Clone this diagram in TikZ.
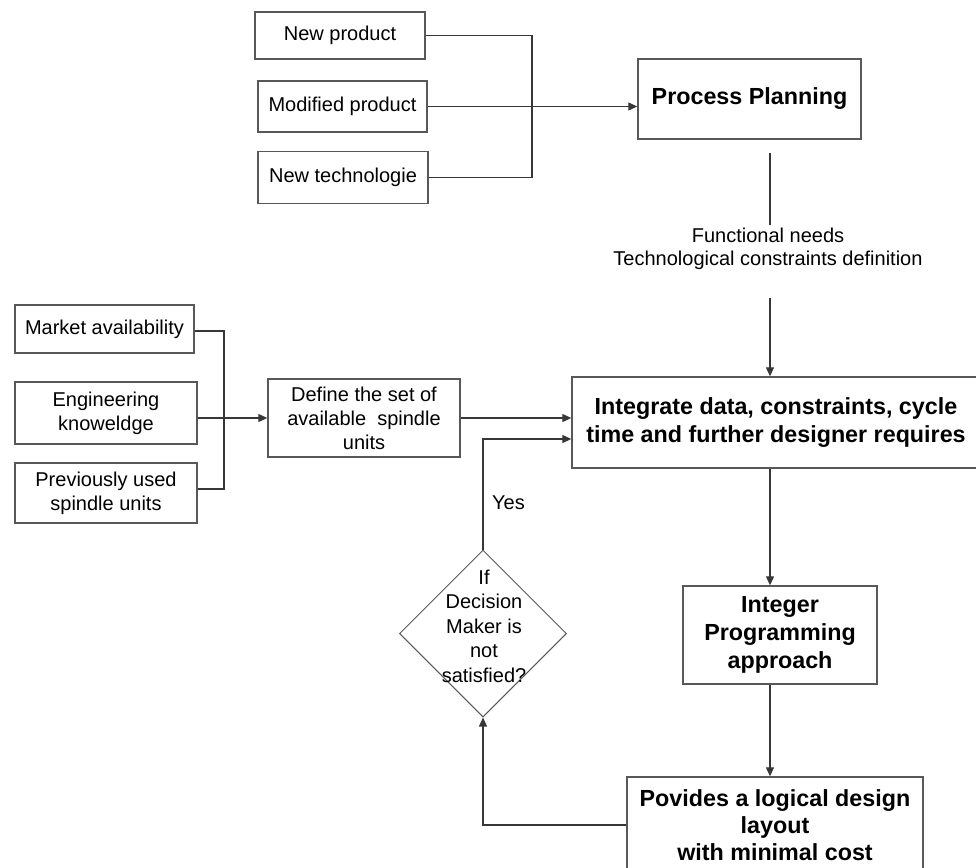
\documentclass[tikz,border=0pt]{standalone}
\usepackage{fontspec}
\setmainfont{Liberation Sans}
\usetikzlibrary{arrows.meta,shapes.geometric}
\definecolor{edgec}{RGB}{88,88,88}
\definecolor{wirec}{RGB}{55,55,55}
\newcommand\regtxt{\fontsize{20}{24}\selectfont}
\newcommand\boldtxt{\fontsize{23.3}{28}\selectfont\bfseries}
\begin{document}
\begin{tikzpicture}[x=1pt,y=-1pt,
  box/.style={draw=edgec, line width=1.4pt, fill=white, inner sep=0pt, align=center, font=\regtxt},
  bbox/.style={box, font=\boldtxt},
  wire/.style={draw=wirec, line width=1.2pt},
  arr/.style={wire, -{Triangle[length=9pt,width=8pt]}}]
\useasboundingbox (0,0) rectangle (976,867);
% top inputs
\node[box, minimum width=170pt, minimum height=47pt] (np) at (340,35.5) {New product};
\node[box, minimum width=169pt, minimum height=51pt] (mp) at (342.5,106.5) {Modified product};
\node[box, minimum width=170pt, minimum height=52pt] (nt) at (343,177.5) {New technologie};
\node[bbox, minimum width=223pt, minimum height=80pt] (pp) at (749.5,99) {Process Planning};
\coordinate (jt) at (532,0);
\draw[wire] (np.east) -| (jt |- nt.east) -- (nt.east);
\draw[arr] (mp.east) -- (mp.east -| pp.west);
% functional needs
\node[font=\regtxt, align=center, inner sep=0pt] (fn) at (768,248.5) {Functional needs\\[-1pt]Technological constraints definition};
\coordinate (a1) at (770,153);
\coordinate (a2) at (770,225);
\coordinate (a3) at (770,298);
\draw[wire] (a1) -- (a2);
% integrate
\node[bbox, minimum width=408pt, minimum height=91pt] (it) at (776,422.5) {Integrate data, constraints, cycle\\time and further designer requires};
\draw[arr] (a3) -- (a3 |- it.north);
% left inputs
\node[box, minimum width=179pt, minimum height=48pt] (ma) at (104.5,329) {Market availability};
\node[box, minimum width=182pt, minimum height=62pt] (ek) at (106,413) {Engineering\\knoweldge};
\node[box, minimum width=182pt, minimum height=60pt] (pu) at (106,493) {Previously used\\spindle units};
\node[box, minimum width=192pt, minimum height=78pt] (df) at (364,418) {Define the set of\\available~ spindle\\units};
\coordinate (jl) at (224,0);
\coordinate (mal) at ([yshift=-2pt]ma.east);
\coordinate (pul) at ([yshift=4pt]pu.east);
\draw[wire] (mal) -| (jl |- pul) -- (pul);
\draw[arr] (ek.east |- df.west) -- (df.west);
\draw[arr] (df.east) -- (df.east -| it.west);
% integer programming
\node[bbox, minimum width=194pt, minimum height=98pt] (ip) at (780,635) {Integer\\Programming\\approach};
\draw[arr] (a3 |- it.south) -- (a3 |- ip.north);
% provides
\node[bbox, minimum width=296pt, minimum height=96pt] (pv) at (775,825) {Povides a logical design\\[-1pt]layout\\[-1pt]with minimal cost};
\draw[arr] (a3 |- ip.south) -- (a3 |- pv.north);
% decision
\node[diamond, draw=edgec, line width=1pt, fill=white, aspect=1, minimum width=167pt, minimum height=167pt, inner sep=0pt] (dm) at (483,633.5) {};
\node[font=\fontsize{20}{24.5}\selectfont, align=center, inner sep=0pt] (dmt) at (484,626) {If\\Decision\\Maker is\\not\\satisfied?};
\coordinate (pvl) at (pv.west |- 0,825);
\draw[arr] (pvl) -| (dm.south);
\coordinate (itl) at ([yshift=-16.5pt]it.west);
\draw[arr] (dm.north) |- (itl);
\node[font=\regtxt, anchor=west, inner sep=0pt] (yes) at (492,503) {Yes};
\end{tikzpicture}
\end{document}
